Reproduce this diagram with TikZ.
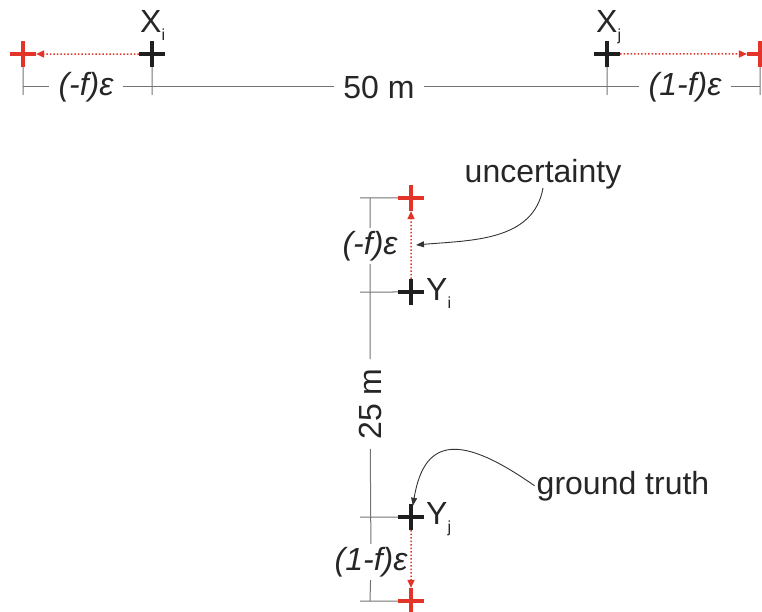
\documentclass[tikz,border=0pt]{standalone}
\usepackage{fontspec}
\setmainfont{Liberation Sans}
\usetikzlibrary{arrows.meta,shapes.misc,positioning}

% piccolo pedice abbassato
\newcommand{\lowsub}[1]{\raisebox{-8pt}{\fontsize{16}{16}\selectfont #1}}

\begin{document}
\begin{tikzpicture}[x=1pt, y=-1pt, >={Triangle[length=8pt, width=7pt]},
    every node/.style={font=\fontsize{32}{36}\selectfont, text=txtgray},
    blackcross/.style={cross out, draw=crossblack, line width=3.5pt, rotate=45,
        minimum size=15pt, inner sep=0pt},
    redcross/.style={blackcross, draw=crossred},
    dimline/.style={draw=linegray, line width=1pt},
    dimlabel/.style={inner xsep=9pt, inner ysep=3pt},
    epslabel/.style={dimlabel, font=\fontsize{32}{36}\selectfont\itshape},
    ptlabel/.style={inner sep=1pt, anchor=base west},
    note/.style={inner sep=2pt, anchor=base},
    redarrow/.style={->, draw=crossred, dotted, line width=1.5pt},
    leader/.style={-{Triangle[length=8pt, width=6pt]}, draw=black!80, line width=0.9pt}]

    % Colori
    \colorlet{crossblack}{black!88}
    \colorlet{txtgray}{black!85}
    \colorlet{linegray}{black!55}
    \definecolor{crossred}{RGB}{226,52,40}

    \clip (0,0) rectangle (762,612);

    % Punti sulla riga orizzontale (50 m)
    \node[redcross]   (RL) at (23,54)  {};
    \node[blackcross] (Xi) at (152,54) {};
    \node[blackcross] (Xj) at (607,54) {};
    \node[redcross]   (RR) at (760,54) {};

    \node[ptlabel] (XiL) at (139,33) {X\lowsub{i}};
    \node[ptlabel] (XjL) at (595,33) {X\lowsub{j}};

    % Quote orizzontali
    \node[epslabel] (epsL)  at (86,87)  {(-f)ε};
    \node[dimlabel] (fifty) at (379,87) {50 m};
    \node[epslabel] (epsR)  at (685,87) {(1-f)ε};

    \draw[dimline] (RL |- epsL) -- (epsL) (epsL) -- (fifty)
                   (fifty) -- (epsR) (epsR) -- (RR |- epsR);
    \foreach \p in {RL, Xi, Xj, RR}
        \draw[dimline] (\p) -- ([yshift=-8pt]\p |- epsL);

    % Frecce di incertezza (orizzontali)
    \draw[redarrow] (Xi) -- (RL);
    \draw[redarrow] (Xj) -- (RR);

    % Punti sulla colonna verticale (25 m)
    \node[redcross]   (RT) at (411,198) {};
    \node[blackcross] (Yi) at (411,292) {};
    \node[blackcross] (Yj) at (411,517) {};
    \node[redcross]   (RB) at (411,601) {};

    \node[ptlabel] (YiL) at (425,300) {Y\lowsub{i}};
    \node[ptlabel] (YjL) at (425,524) {Y\lowsub{j}};

    % Quote verticali
    \node[epslabel] (epsT) at (370,246) {(-f)ε};
    \node[dimlabel, rotate=90] (tw) at (370,404) {25 m};
    \node[epslabel] (epsB) at (371,562) {(1-f)ε};

    \draw[dimline] (RT -| epsT) -- (epsT) (epsT) -- (tw)
                   (tw) -- (epsB) (epsB) -- (RB -| epsT);
    \foreach \p in {RT, Yi, Yj, RB}
        \draw[dimline] ([xshift=-10pt]\p -| epsT) -- (\p);

    % Frecce di incertezza (verticali)
    \draw[redarrow] (Yi) -- (RT) node[pos=0.5, coordinate] (midU) {};
    \draw[redarrow] (Yj) -- (RB);

    % Note
    \node[note] (unc) at (543,183) {uncertainty};
    \node[note] (gt)  at (623,494) {ground truth};

    \draw[leader] ([yshift=-5pt]unc.base) to[out=-100, in=5] ([xshift=5pt]midU);
    \draw[leader] (gt.west) to[out=145, in=76, out looseness=1.7, in looseness=1.5] (Yj);

\end{tikzpicture}
\end{document}
